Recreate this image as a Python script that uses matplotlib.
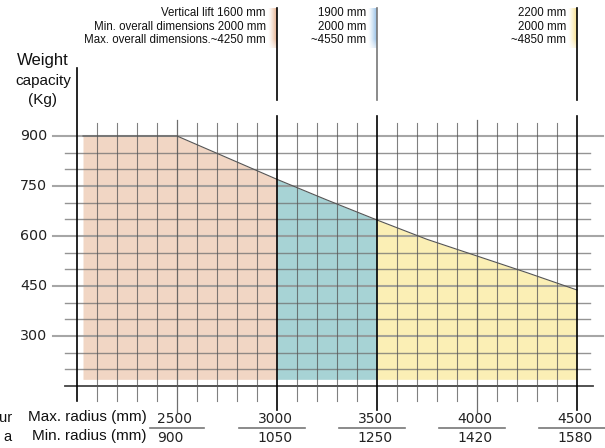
import matplotlib
matplotlib.use('Agg')
import matplotlib.pyplot as plt
import numpy as np

# load curve (radius mm -> weight kg)
curve_x = [2030, 2500, 2750, 3000, 3250, 3500, 3750, 4000, 4250, 4500]
curve_y = [900, 900, 835, 770, 708, 648, 590, 540, 490, 438]
fill_bottom = 170

zone_edges = [2030, 3000, 3500, 4500]
zone_colors = ['#f1d6c4', '#a7d3d5', '#fbefb5']
bar_colors = ['#e6b08c', '#94bfe6', '#f8e08a']

zone_text = [
    ['Vertical lift 1600 mm', 'Min. overall dimensions 2000 mm', 'Max. overall dimensions.~4250 mm'],
    ['1900 mm', '2000 mm', '~4550 mm'],
    ['2200 mm', '2000 mm', '~4850 mm'],
]
zone_marks = [3000, 3500, 4500]

y_labels = [900, 750, 600, 450, 300]
radius_max = [2500, 3000, 3500, 4000, 4500]
radius_min = [900, 1050, 1250, 1420, 1580]


# pixel -> data helpers (layout only)
def px_x(p):
    return 2000 + (p - 77) * 5


def px_y(p):
    return 900 - (p - 136) * 3


fig = plt.figure(figsize=(6.05, 4.48), dpi=100)
ax = fig.add_axes([0, 0, 1, 1])
ax.set_xlim(px_x(0), px_x(605))
ax.set_ylim(px_y(448), px_y(0))
ax.axis('off')

# filled zones
cx = np.array(curve_x, dtype=float)
cy = np.array(curve_y, dtype=float)
for i in range(3):
    a, b = zone_edges[i], zone_edges[i + 1]
    xs = np.linspace(a, b, 60)
    ys = np.interp(xs, cx, cy)
    ax.fill_between(xs, fill_bottom, ys, color=zone_colors[i], lw=0, zorder=1)
ax.plot(cx, cy, color='#555555', lw=0.8, zorder=4)

# horizontal grid
for kg in range(150, 901, 50):
    if kg in y_labels:
        ax.plot([px_x(53), px_x(603)], [kg, kg], color='#909090', lw=1.5, alpha=0.8, zorder=2)
    elif kg == 150:
        ax.plot([px_x(65), px_x(593)], [kg, kg], color='#444444', lw=1.3, zorder=2)
    else:
        ax.plot([px_x(65), px_x(590)], [kg, kg], color='#707070', lw=1.0, alpha=0.75, zorder=2)

# vertical grid
for mm in range(2100, 4500, 100):
    if mm in zone_marks:
        continue
    if mm in (2500, 4000):
        ax.plot([mm, mm], [px_y(120), px_y(412)], color='#555555', lw=0.9, alpha=0.85, zorder=3)
    else:
        ax.plot([mm, mm], [px_y(123), px_y(401)], color='#555555', lw=0.8, alpha=0.75, zorder=3)
for mm in zone_marks:
    ax.plot([mm, mm], [px_y(116), px_y(410)], color='black', lw=1.2, zorder=5)
ax.plot([2000, 2000], [px_y(68), px_y(401)], color='black', lw=1.2, zorder=5)

# top marks with colour tabs
grad = np.linspace(0, 1, 30)
for i, mm in enumerate(zone_marks):
    col = 'black' if i != 1 else '#777777'
    ax.plot([mm, mm], [px_y(8), px_y(100)], color=col, lw=1.2, zorder=5)
    rgb = np.array(matplotlib.colors.to_rgb(bar_colors[i]))
    img = np.ones((20, 30, 4))
    img[:, :, :3] = rgb
    vfade = np.ones(20)
    vfade[-5:] = np.linspace(1, 0.4, 5)
    img[:, :, 3] = np.outer(vfade, grad ** 1.3)
    ax.imshow(img, extent=[mm - 45, mm, px_y(48), px_y(8)], aspect='auto', zorder=4,
              interpolation='bilinear')
    for j, line in enumerate(zone_text[i]):
        ax.text(mm - 55, px_y(13.5 + 13.3 * j), line, ha='right', va='center',
                fontsize=8.3, family='Liberation Sans', color='#111111')

# y labels
for kg in y_labels:
    ax.text(px_x(47.5), kg, str(kg), ha='right', va='center', fontsize=10.3,
            family='DejaVu Sans', color='#222222')
for j, w in enumerate(['Weight', 'capacity', '(Kg)']):
    ax.text(px_x(43), px_y(61 + 19.5 * j), w, ha='center', va='center',
            fontsize=12 if j == 0 else 11, family='Liberation Sans', color='#111111')

# bottom radius labels
ax.text(px_x(147), px_y(417), 'Max. radius (mm)', ha='right', va='center',
        fontsize=11, family='Liberation Sans', color='#111111')
ax.text(px_x(147), px_y(436), 'Min. radius (mm)', ha='right', va='center',
        fontsize=11, family='Liberation Sans', color='#111111')
# fragments of a label cut off at the left edge of the source image
ax.text(px_x(12), px_y(418), 'ur', ha='right', va='center',
        fontsize=10.5, family='Liberation Sans', color='#111111')
ax.text(px_x(12), px_y(437), 'a', ha='right', va='center',
        fontsize=10.5, family='Liberation Sans', color='#111111')

for i, (rmax, rmin) in enumerate(zip(radius_max, radius_min)):
    if i == 0:
        xt, ha = rmax - 100, 'left'
        x0, x1 = rmax - 135, rmax + 135
    else:
        xt, ha = rmax - 10, 'center'
        x0, x1 = rmax - 190, rmax + 140
    ax.text(xt, px_y(419), str(rmax), ha=ha, va='center', fontsize=10,
            family='DejaVu Sans', color='#222222')
    ax.text(xt, px_y(437.5), str(rmin), ha=ha, va='center', fontsize=10,
            family='DejaVu Sans', color='#222222')
    ax.plot([x0, x1], [px_y(428), px_y(428)], color='#777777', lw=1.2, zorder=3)

fig.savefig('out.png', dpi=100)
